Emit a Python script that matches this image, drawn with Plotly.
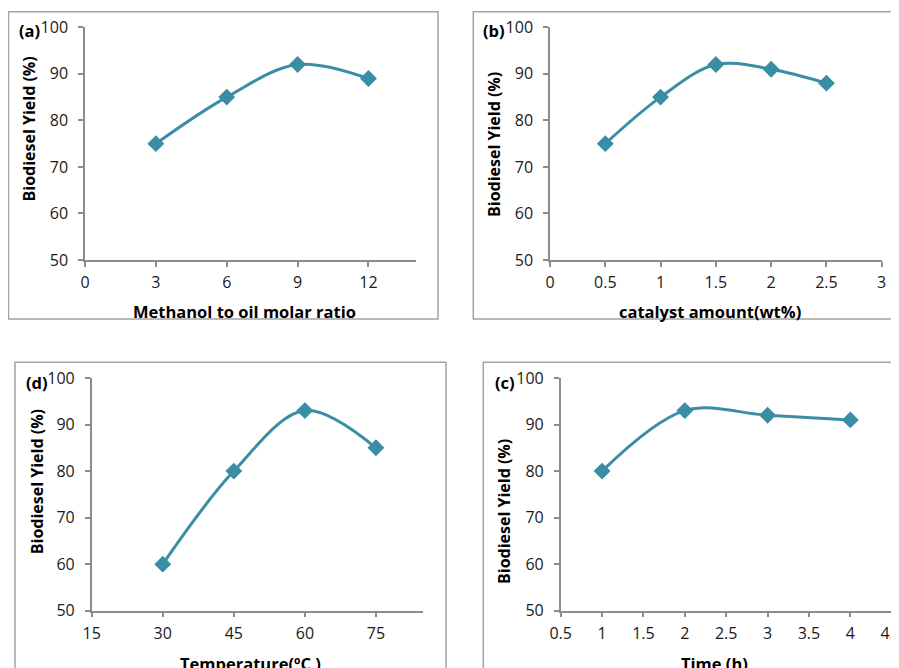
import plotly.graph_objects as go

# Page is offset by the 8px default body margin; figure fills the rest
OFF = 8
W, H = 899 - OFF, 668 - OFF

# Data
a_x = [3, 6, 9, 12]
a_y = [75, 85, 92, 89]
b_x = [0.5, 1, 1.5, 2, 2.5]
b_y = [75, 85, 92, 91, 88]
d_x = [30, 45, 60, 75]
d_y = [60, 80, 93, 85]
c_x = [1, 2, 3, 4]
c_y = [80, 93, 92, 91]

y_title = "Biodiesel Yield (%)"

LINE = "#3A8DA5"
AXC = "#8c8c8c"
BORDER = "#a3a3a3"
FONT = "Open Sans"
TXT = "#1a1a1a"


def px(x):
    return (x - OFF) / W


def py(y):
    return 1 - (y - OFF) / H


fig = go.Figure()

panels = [
    # (xs, ys, xaxis, yaxis, xdomain_px, ydomain_px, xrange, dtick, tick0)
    (a_x, a_y, "x", "y", (85, 415.7), (27.3, 260), [0, 14], 3, 0),
    (b_x, b_y, "x2", "y2", (550, 881.7), (27.3, 260), [0, 3], 0.5, 0),
    (d_x, d_y, "x3", "y3", (91.7, 423.3), (378, 610.7), [15, 85], 15, 15),
    (c_x, c_y, "x4", "y4", (560.7, 891.7), (378, 610.7), [0.5, 4.5], 0.5, 0.5),
]

layout_axes = {}
for i, (xs, ys, xa, ya, xd, yd, xr, dt, t0) in enumerate(panels):
    fig.add_trace(go.Scatter(
        x=xs, y=ys, xaxis=xa, yaxis=ya, mode="lines+markers",
        line=dict(color=LINE, width=3, shape="spline", smoothing=1),
        marker=dict(symbol="diamond", size=13, color=LINE),
        showlegend=False, cliponaxis=False,
    ))
    suffix = "" if i == 0 else str(i + 1)
    layout_axes["xaxis" + suffix] = dict(
        domain=[px(xd[0]), px(xd[1])], range=xr, dtick=dt, tick0=t0,
        anchor=ya, showgrid=False, zeroline=False, showline=True,
        linecolor=AXC, linewidth=1.5, ticks="outside", ticklen=5,
        tickcolor=AXC, tickwidth=1.5, automargin=False,
        ticklabelstandoff=2, ticklabeloverflow="allow",
        tickfont=dict(family=FONT, size=16, color=TXT),
    )
    layout_axes["yaxis" + suffix] = dict(
        domain=[py(yd[1]), py(yd[0])], range=[50, 100], dtick=10,
        anchor=xa, showgrid=False, zeroline=False, showline=True,
        linecolor=AXC, linewidth=1.5, ticks="outside", ticklen=5,
        tickcolor=AXC, tickwidth=1.5, automargin=False,
        ticklabelstandoff=7,
        tickfont=dict(family=FONT, size=16, color=TXT),
    )

fig.update_layout(**layout_axes)

# Borders
shapes = []
for (x0, y0, x1, y1) in [(8.5, 11.7, 438, 319), (473.3, 11.7, 910, 319),
                         (15, 362.3, 446, 690), (483.3, 362.3, 910, 690)]:
    shapes.append(dict(type="rect", xref="paper", yref="paper",
                       x0=px(x0), x1=px(x1), y0=py(y1), y1=py(y0),
                       line=dict(color=BORDER, width=1.5), layer="below"))

annotations = []


def ann(text, x, y, size=16, angle=0):
    annotations.append(dict(
        text=text, xref="paper", yref="paper", x=px(x), y=py(y),
        xanchor="center", yanchor="middle", showarrow=False, textangle=angle,
        font=dict(family=FONT, size=size, color="#000000"),
    ))


# Panel labels
ann("<b>(a)</b>", 29, 30.5, 16.5)
ann("<b>(b)</b>", 494, 30.5, 16.5)
ann("<b>(d)</b>", 36.5, 382.5, 16.5)
ann("<b>(c)</b>", 505, 382.5, 16.5)

# Y titles
ann("<b>" + y_title + "</b>", 28.5, 129, 16, -90)
ann("<b>" + y_title + "</b>", 494, 144, 16, -90)
ann("<b>" + y_title + "</b>", 36.5, 481.7, 16, -90)
ann("<b>" + y_title + "</b>", 504, 512, 16, -90)

# X titles
ann("<b>Methanol to oil molar ratio</b>", 244, 311, 16.5)
ann("<b>catalyst amount(wt%)</b>", 709.6, 311, 16.5)
ann("<b>Temperature(ºC )</b>", 251, 663, 16.5)
ann("<b>Time (h)</b>", 714, 663, 16.5)

fig.update_layout(
    width=W, height=H, margin=dict(l=0, r=0, t=0, b=0),
    paper_bgcolor="white", plot_bgcolor="white",
    shapes=shapes, annotations=annotations,
)

fig.write_html("out.html")
